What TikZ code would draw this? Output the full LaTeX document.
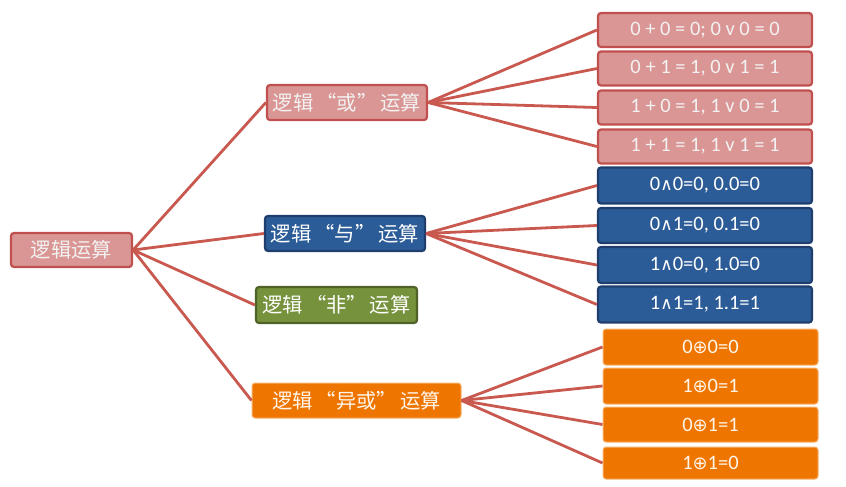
\documentclass[tikz,border=0pt]{standalone}
\usepackage{fontspec}
\setmainfont{Carlito}
\newfontfamily\cjk{Noto Sans CJK SC}
\newfontfamily\symf{DejaVu Sans}
\definecolor{redfill}{HTML}{DA9694}
\definecolor{redline}{HTML}{C0504D}
\definecolor{edgec}{HTML}{C9584F}
\definecolor{bluefill}{HTML}{2C5C97}
\definecolor{blueline}{HTML}{1F3E6E}
\definecolor{greenfill}{HTML}{76923C}
\definecolor{greenline}{HTML}{4F6228}
\definecolor{orangefill}{HTML}{EE7600}
\definecolor{orangeline}{HTML}{F7B26E}
\tikzset{
  box/.style={rectangle, rounded corners=3pt, line width=2.2pt, inner sep=0pt, text=white, align=center},
  redbox/.style={box, fill=redfill, draw=redline, text=white!95!black},
  bluebox/.style={box, fill=bluefill, draw=blueline},
  greenbox/.style={box, fill=greenfill, draw=greenline},
  orangebox/.style={box, fill=orangefill, draw=orangeline, line width=1pt, text=white!92!orange},
  cn/.style={font=\cjk\fontsize{20.3}{22}\selectfont},
  fm/.style={font=\fontsize{20.5}{22}\selectfont},
  conn/.style={draw=edgec, line width=2.8pt}
}
\newcommand{\andop}{{\symf\fontsize{17}{18}\selectfont\char"2227}}
\newcommand{\xorop}{{\symf\fontsize{18}{18}\selectfont\char"2295}}
\newcommand{\qsp}{\hspace{3pt}}
\begin{document}
\begin{tikzpicture}[x=1pt,y=-1pt]
\useasboundingbox (0,0) rectangle (846,487);
% level 0
\node[redbox, cn, minimum width=121pt, minimum height=34pt] (root) at (71.5,250) {逻辑运算};
% level 1
\node[redbox, cn, minimum width=160pt, minimum height=35pt] (or) at (347,102.5) {逻辑\qsp{}“或”\qsp{}运算};
\node[bluebox, cn, minimum width=160pt, minimum height=35pt] (and) at (345,233.5) {逻辑\qsp{}“与”\qsp{}运算};
\node[greenbox, cn, minimum width=161pt, minimum height=36pt] (not) at (336.5,305) {逻辑\qsp{}“非”\qsp{}运算};
\node[orangebox, cn, minimum width=209pt, minimum height=35pt] (xor) at (356.5,400.5) {逻辑\qsp{}“异或”\qsp{}运算};
% level 2 red
\node[redbox, fm, minimum width=214pt, minimum height=34pt] (o1) at (705,30) {0 + 0 = 0; 0 v 0 = 0};
\node[redbox, fm, minimum width=214pt, minimum height=34pt] (o2) at (705,68.5) {0 + 1 = 1, 0 v 1 = 1};
\node[redbox, fm, minimum width=214pt, minimum height=34pt] (o3) at (705,107.5) {1 + 0 = 1, 1 v 0 = 1};
\node[redbox, fm, minimum width=214pt, minimum height=34pt] (o4) at (705,146.5) {1 + 1 = 1, 1 v 1 = 1};
% level 2 blue
\node[bluebox, fm, minimum width=214pt, minimum height=36pt] (a1) at (705,185.5) {0\andop{}0=0, 0.0=0};
\node[bluebox, fm, minimum width=214pt, minimum height=35pt] (a2) at (705,225.5) {0\andop{}1=0, 0.1=0};
\node[bluebox, fm, minimum width=214pt, minimum height=36pt] (a3) at (705,265) {1\andop{}0=0, 1.0=0};
\node[bluebox, fm, minimum width=214pt, minimum height=36pt] (a4) at (705,304.5) {1\andop{}1=1, 1.1=1};
% level 2 orange
\node[orangebox, fm, minimum width=215pt, minimum height=36pt] (x1) at (710.5,347) {0\xorop{}0=0};
\node[orangebox, fm, minimum width=215pt, minimum height=36pt] (x2) at (710.5,386) {1\xorop{}0=1};
\node[orangebox, fm, minimum width=215pt, minimum height=35pt] (x3) at (710.5,424.5) {0\xorop{}1=1};
\node[orangebox, fm, minimum width=215pt, minimum height=32pt] (x4) at (710.5,463) {1\xorop{}1=0};
% connectors
\foreach \c in {or,and,not,xor} \draw[conn] (root.east) -- (\c.west);
\foreach \c in {o1,o2,o3,o4} \draw[conn] (or.east) -- (\c.west);
\foreach \c in {a1,a2,a3,a4} \draw[conn] (and.east) -- (\c.west);
\foreach \c in {x1,x2,x3,x4} \draw[conn] (xor.east) -- (\c.west);
\end{tikzpicture}
\end{document}
